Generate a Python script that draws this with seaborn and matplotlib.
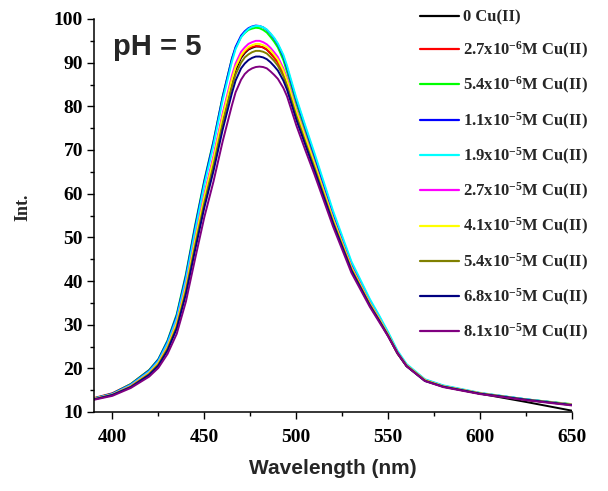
import numpy as np
import pandas as pd
import matplotlib
matplotlib.use("Agg")
import matplotlib.pyplot as plt
import seaborn as sns
from matplotlib.ticker import MultipleLocator

sns.set_style("ticks")
plt.rcParams['font.family'] = ['Liberation Serif', 'DejaVu Serif']
plt.rcParams['mathtext.fontset'] = 'custom'
plt.rcParams['mathtext.rm'] = 'Liberation Serif:bold'
plt.rcParams['mathtext.bf'] = 'Liberation Serif:bold'
plt.rcParams['mathtext.it'] = 'Liberation Serif:bold'

wavelength = [390, 400, 410, 420, 425, 430, 435, 440, 445, 450, 455, 460, 465, 467, 470,
              472, 474, 476, 478, 480, 482, 484, 486, 488, 490, 493, 495, 500, 505, 510,
              520, 530, 540, 545, 550, 555, 560, 570, 580, 600, 625, 650]

cu_0 = [13.0, 14.0, 15.9, 18.8, 21.0, 24.8, 30.0, 38.3, 48.7, 58.7, 67.3, 77.0, 85.5, 88.3, 91.1,
        92.2, 93.0, 93.4, 93.7, 93.7, 93.5, 93.0, 92.2, 91.3, 90.2, 87.7, 85.5, 78.5, 72.4, 66.4,
        54.0, 43.0, 34.8, 31.3, 27.6, 23.6, 20.6, 17.2, 15.9, 14.2, 12.3, 10.3]
cu_2_7e6 = [13.2, 14.3, 16.4, 19.6, 21.9, 25.6, 31.0, 39.0, 49.6, 59.5, 68.1, 77.9, 86.2, 88.9, 91.4,
            92.5, 93.2, 93.6, 93.8, 93.7, 93.5, 93.0, 92.1, 91.1, 90.0, 87.4, 85.0, 78.1, 72.0, 66.0,
            53.6, 42.6, 34.5, 31.0, 27.4, 23.4, 20.5, 17.2, 15.8, 14.2, 12.8, 11.7]
cu_5_4e6 = [13.1, 14.2, 16.4, 19.6, 22.1, 26.4, 32.4, 41.6, 52.8, 63.1, 72.1, 82.3, 90.9, 93.4, 95.9,
            96.8, 97.5, 97.8, 98.0, 97.9, 97.5, 96.9, 95.9, 94.8, 93.5, 90.6, 87.9, 80.7, 74.3, 68.0,
            55.0, 43.6, 35.2, 31.6, 27.7, 23.5, 20.6, 17.3, 15.9, 14.3, 12.9, 11.8]
cu_1_1e5 = [13.1, 14.2, 16.3, 19.5, 22.0, 26.2, 32.1, 41.2, 52.4, 62.8, 71.9, 82.2, 90.9, 93.6, 96.2,
            97.2, 97.9, 98.3, 98.5, 98.4, 98.1, 97.5, 96.6, 95.5, 94.2, 91.4, 88.8, 81.5, 75.1, 68.7,
            55.6, 44.1, 35.6, 31.9, 28.0, 23.8, 20.8, 17.4, 16.0, 14.3, 12.9, 11.7]
cu_1_9e5 = [13.1, 14.1, 16.2, 19.3, 21.7, 25.8, 31.5, 40.4, 51.5, 62.0, 71.1, 81.4, 90.2, 93.1, 95.8,
            96.9, 97.7, 98.2, 98.4, 98.4, 98.1, 97.6, 96.7, 95.7, 94.4, 91.8, 89.3, 82.0, 75.5, 69.2,
            56.1, 44.5, 35.9, 32.2, 28.3, 24.1, 21.0, 17.5, 16.1, 14.4, 12.9, 11.7]
cu_2_7e5 = [13.0, 14.0, 16.0, 19.0, 21.3, 25.1, 30.6, 39.1, 49.7, 59.8, 68.6, 78.4, 87.0, 89.8, 92.5,
            93.5, 94.3, 94.7, 95.0, 95.0, 94.7, 94.2, 93.4, 92.4, 91.3, 88.7, 86.4, 79.3, 73.2, 67.0,
            54.4, 43.3, 35.0, 31.5, 27.7, 23.7, 20.7, 17.3, 15.9, 14.3, 12.8, 11.7]
cu_4_1e5 = [13.0, 14.0, 15.9, 18.9, 21.2, 24.9, 30.3, 38.6, 49.2, 59.2, 67.9, 77.7, 86.2, 89.0, 91.7,
            92.8, 93.6, 94.0, 94.3, 94.3, 94.0, 93.6, 92.8, 91.8, 90.7, 88.2, 85.9, 78.9, 72.8, 66.7,
            54.2, 43.1, 34.9, 31.4, 27.7, 23.6, 20.7, 17.3, 15.9, 14.3, 12.8, 11.7]
cu_5_4e5 = [12.9, 13.9, 15.8, 18.7, 20.9, 24.5, 29.6, 37.8, 48.1, 57.9, 66.5, 76.1, 84.5, 87.3, 90.0,
            91.2, 91.9, 92.4, 92.7, 92.7, 92.5, 92.1, 91.3, 90.4, 89.3, 86.9, 84.7, 77.9, 71.8, 65.9,
            53.6, 42.7, 34.6, 31.1, 27.5, 23.6, 20.6, 17.2, 15.8, 14.2, 12.8, 11.6]
cu_6_8e5 = [12.9, 13.9, 15.7, 18.5, 20.6, 24.1, 29.1, 37.0, 47.1, 56.8, 65.2, 74.7, 83.0, 85.9, 88.7,
            89.8, 90.6, 91.1, 91.4, 91.4, 91.2, 90.8, 90.1, 89.2, 88.2, 85.9, 83.8, 77.0, 71.1, 65.2,
            53.2, 42.4, 34.4, 31.0, 27.4, 23.5, 20.5, 17.1, 15.8, 14.2, 12.8, 11.6]
cu_8_1e5 = [12.8, 13.7, 15.5, 18.1, 20.1, 23.3, 27.9, 35.3, 45.1, 54.6, 62.8, 72.0, 80.2, 83.2, 86.1,
            87.4, 88.2, 88.7, 89.0, 89.1, 89.0, 88.7, 88.0, 87.2, 86.3, 84.2, 82.3, 75.7, 69.9, 64.3,
            52.5, 41.9, 34.1, 30.7, 27.3, 23.5, 20.5, 17.1, 15.7, 14.1, 12.7, 11.5]

labels = ["0 Cu(II)",
          r"2.7x10$^{-6}$M Cu(II)",
          r"5.4x10$^{-6}$M Cu(II)",
          r"1.1x10$^{-5}$M Cu(II)",
          r"1.9x10$^{-5}$M Cu(II)",
          r"2.7x10$^{-5}$M Cu(II)",
          r"4.1x10$^{-5}$M Cu(II)",
          r"5.4x10$^{-5}$M Cu(II)",
          r"6.8x10$^{-5}$M Cu(II)",
          r"8.1x10$^{-5}$M Cu(II)"]
series = [cu_0, cu_2_7e6, cu_5_4e6, cu_1_1e5, cu_1_9e5, cu_2_7e5, cu_4_1e5, cu_5_4e5, cu_6_8e5, cu_8_1e5]
colors = ["#000000", "#FF0000", "#00FF00", "#0000FF", "#00FFFF", "#FF00FF",
          "#FFFF00", "#808000", "#000080", "#800080"]

rows = []
for lab, vals in zip(labels, series):
    for w, v in zip(wavelength, vals):
        rows.append({"Wavelength": w, "Int": v, "Sample": lab})
df = pd.DataFrame(rows)

fig = plt.figure(figsize=(6.08, 4.91), dpi=100)
ax = fig.add_axes([94/608, 1 - 412/491, (572 - 94)/608, (412 - 19)/491])

sns.lineplot(data=df, x="Wavelength", y="Int", hue="Sample", hue_order=labels,
             palette=dict(zip(labels, colors)), sort=False, estimator=None,
             linewidth=1.4, ax=ax, legend=True)
for ln in ax.get_lines():
    ln.set_solid_joinstyle("round")

ax.set_xlim(390, 650)
ax.set_ylim(10, 100)
ax.xaxis.set_major_locator(MultipleLocator(50))
ax.xaxis.set_minor_locator(MultipleLocator(25))
ax.yaxis.set_major_locator(MultipleLocator(10))
ax.yaxis.set_minor_locator(MultipleLocator(5))
for s in ["top", "right"]:
    ax.spines[s].set_visible(False)
for s in ["left", "bottom"]:
    ax.spines[s].set_linewidth(1.1)
    ax.spines[s].set_color("black")
ax.tick_params(which="major", direction="out", length=5, width=1.0, colors="black",
               labelsize=14, pad=3)
ax.tick_params(axis="x", which="major", pad=7)
ax.tick_params(which="minor", direction="out", length=3, width=1.0, colors="black")
for lbl in ax.get_xticklabels() + ax.get_yticklabels():
    lbl.set_fontweight("bold")
    lbl.set_family("Liberation Serif")

ax.set_xlabel("Wavelength (nm)", fontsize=15, fontweight="bold", family="Liberation Sans")
ax.xaxis.set_label_coords((333 - 94) / (572 - 94), -(459 - 412) / (412 - 19))
ax.set_ylabel("Int.", fontsize=13, fontweight="bold", family="Liberation Serif")
ax.yaxis.set_label_coords(-(94 - 31) / (572 - 94), (412 - 207) / (412 - 19))

fig.text(113/608, 1 - 47/491, "pH = 5", fontsize=21, fontweight="bold",
         family="Liberation Sans", va="center", ha="left")

handles, labs = ax.get_legend_handles_labels()
leg = ax.get_legend()
if leg is not None:
    leg.remove()
for h in handles:
    h.set_linewidth(1.6)
fig.legend(handles, labs, loc="upper left", bbox_to_anchor=(413/608, 1 - 3/491),
           frameon=False, prop={"family": "Liberation Serif", "weight": "bold", "size": 12},
           handlelength=2.35, handletextpad=0.25, labelspacing=0.85, borderaxespad=0)

fig.savefig("out.png", dpi=100)
